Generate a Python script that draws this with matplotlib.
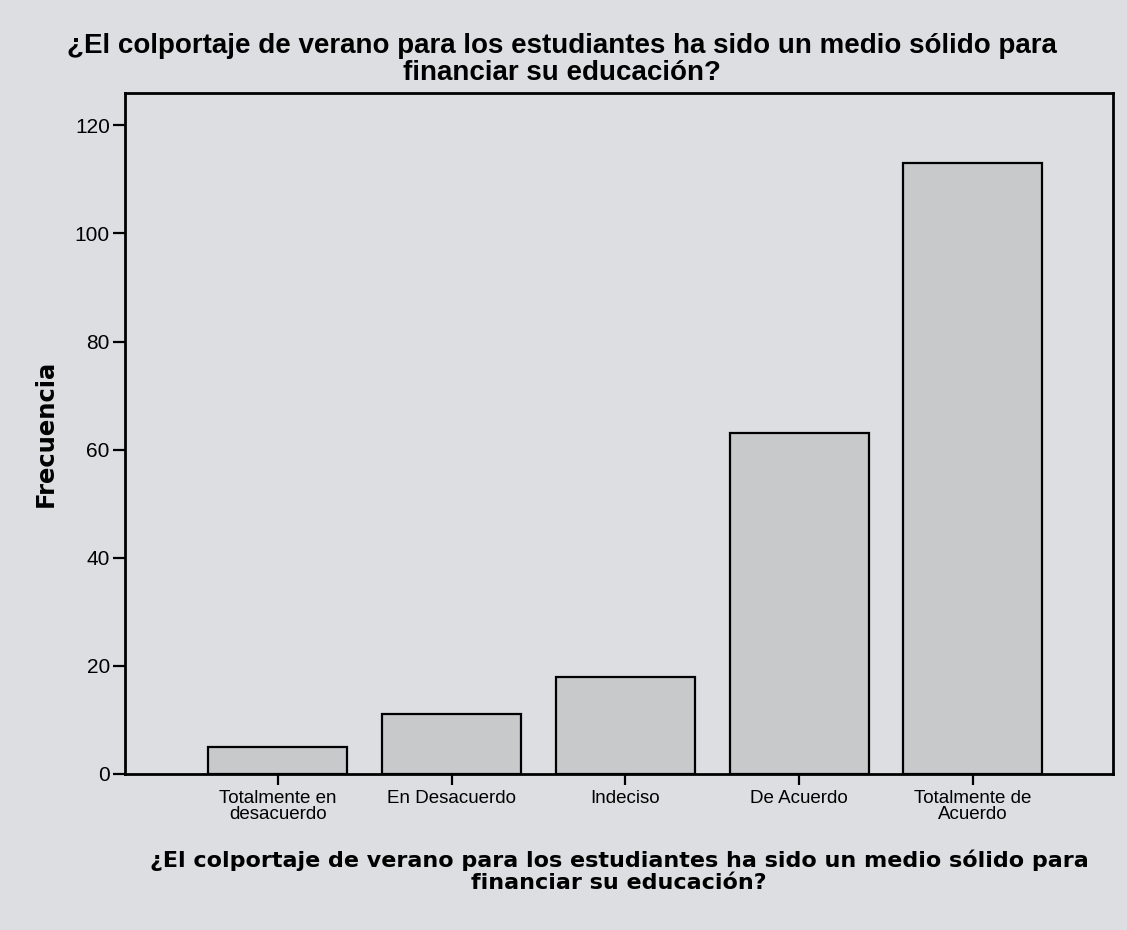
import matplotlib
matplotlib.use("Agg")
import matplotlib.pyplot as plt
import numpy as np

categorias = ["Totalmente en\ndesacuerdo", "En Desacuerdo", "Indeciso", "De Acuerdo", "Totalmente de\nAcuerdo"]
frecuencias = [5, 11, 18, 63, 113]
y_ticks = [0, 20, 40, 60, 80, 100, 120]

titulo = "¿El colportaje de verano para los estudiantes ha sido un medio sólido para\nfinanciar su educación?"

fondo = "#dcdee1"
gris_barra = "#c8c9cb"

fig = plt.figure(figsize=(11.27, 9.3), dpi=100, facecolor=fondo)
ax = fig.add_axes([0.111, 0.168, 0.877, 0.732], facecolor=fondo)

x = np.arange(len(categorias))
ax.bar(x, frecuencias, width=0.8, color=gris_barra, edgecolor="black", linewidth=1.6, zorder=2)

ax.set_xlim(-0.88, 4.81)
ax.set_ylim(0, 126)
ax.set_yticks(y_ticks)
ax.set_xticks(x)
ax.set_xticklabels(categorias, fontsize=13.5, family="Liberation Sans", linespacing=0.9)
ax.tick_params(axis="y", length=9, width=1.6, labelsize=15, direction="out", pad=2)
ax.tick_params(axis="x", length=8, width=1.6, direction="out", pad=4)
for lbl in ax.get_yticklabels():
    lbl.set_family("Liberation Sans")

for s in ax.spines.values():
    s.set_linewidth(2.0)

ax.set_ylabel("Frecuencia", fontsize=17.5, fontweight="bold", family="DejaVu Sans", labelpad=12)
ax.set_xlabel(titulo, fontsize=16, fontweight="bold", family="DejaVu Sans", labelpad=19, linespacing=1.1)

fig.text(0.499, 0.908, titulo, ha="center", va="bottom", fontsize=20, fontweight="bold",
         family="Liberation Sans", linespacing=1.02)

fig.savefig("out.png", dpi=100, facecolor=fondo)
